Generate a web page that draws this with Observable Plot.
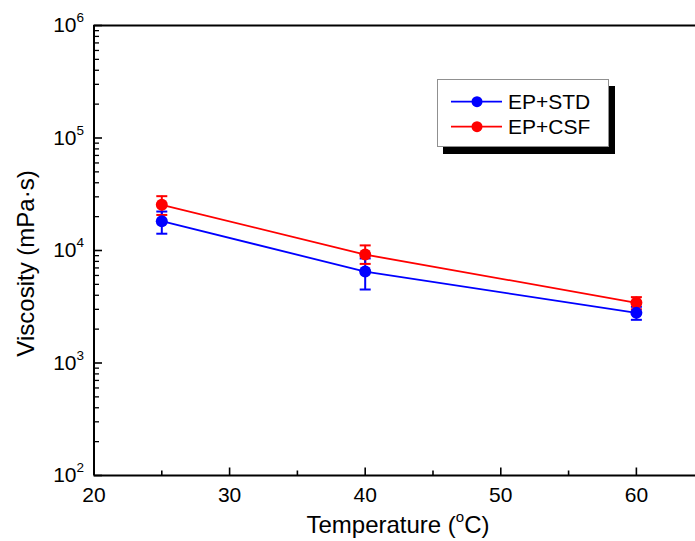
<!DOCTYPE html>
<html><head><meta charset="utf-8">
<script src="https://cdn.jsdelivr.net/npm/d3@7"></script>
<script src="https://cdn.jsdelivr.net/npm/@observablehq/plot@0.6"></script>
<style>
body{margin:0;background:#fff}
svg{font-family:"Liberation Sans",Arial,sans-serif}
</style>
</head><body><div id="chart"></div>
<script>
// ---- data ----
const temperatures = [25, 40, 60];
const seriesNames = ["EP+STD", "EP+CSF"];
const seriesColors = ["#0000ff", "#ff0000"];
const stdViscosity = [18200, 6500, 2790];
const stdLow = [14100, 4500, 2420];
const stdHigh = [22200, 8500, 3160];
const csfViscosity = [25500, 9200, 3430];
const csfLow = [20700, 7600, 3000];
const csfHigh = [30400, 11100, 3850];
const xTicks = [20, 30, 40, 50, 60];
const xMinorTicks = [25, 35, 45, 55];
const yTicks = [1e2, 1e3, 1e4, 1e5, 1e6];
const yMinorTicks = [1e2, 1e3, 1e4, 1e5].flatMap(d => [2,3,4,5,6,7,8,9].map(m => m * d));
const xTitle = "Temperature (";
const xTitleSup = "o";
const xTitleEnd = "C)";
const yTitle = "Viscosity (mPa·s)";

// build rows (CSF first so STD draws on top)
const rows = [];
temperatures.forEach((t, i) => rows.push({t, v: csfViscosity[i], lo: csfLow[i], hi: csfHigh[i], s: seriesNames[1]}));
temperatures.forEach((t, i) => rows.push({t, v: stdViscosity[i], lo: stdLow[i], hi: stdHigh[i], s: seriesNames[0]}));

const rOf = size => Math.sqrt(size / Math.PI);
const capSymbol = {draw(context, size) { const r = rOf(size); context.moveTo(-r, 0); context.lineTo(r, 0); }};
const tickUp = {draw(context, size) { const r = rOf(size); context.moveTo(0, 0); context.lineTo(0, -r); }};
const tickRight = {draw(context, size) { const r = rOf(size); context.moveTo(0, 0); context.lineTo(r, 0); }};

const W = 695, H = 541;
const plot = Plot.plot({
  width: W, height: H,
  marginLeft: 93.5, marginRight: 0, marginTop: 25, marginBottom: 66,
  style: {fontFamily: "'Liberation Sans', Arial, sans-serif", fontSize: "21px", background: "#fff", color: "#000"},
  x: {type: "linear", domain: [20, 64.36], axis: null},
  y: {type: "log", domain: [100, 1e6], axis: null},
  color: {domain: seriesNames, range: seriesColors},
  marks: [
    // inward ticks
    Plot.dot(xTicks, {x: d => d, y: 100, symbol: tickUp, r: 8, stroke: "#000", fill: "none", strokeWidth: 1.6}),
    Plot.dot(xMinorTicks, {x: d => d, y: 100, symbol: tickUp, r: 5, stroke: "#000", fill: "none", strokeWidth: 1.6}),
    Plot.dot(yTicks, {x: 20, y: d => d, symbol: tickRight, r: 8, stroke: "#000", fill: "none", strokeWidth: 1.6}),
    Plot.dot(yMinorTicks, {x: 20, y: d => d, symbol: tickRight, r: 5, stroke: "#000", fill: "none", strokeWidth: 1.3}),
    // frame lines
    Plot.ruleX([20], {strokeWidth: 2}),
    Plot.ruleY([100], {strokeWidth: 2}),
    Plot.ruleY([1e6], {strokeWidth: 2}),
    // tick labels
    Plot.text(xTicks, {x: d => d, frameAnchor: "bottom", dy: 19.5, lineAnchor: "middle", text: d => String(d), fontSize: 21}),
    Plot.text(yTicks, {y: d => d, frameAnchor: "left", dx: -10, dy: 0, textAnchor: "end", lineAnchor: "middle", text: d => "10^" + Math.round(Math.log10(d)), fontSize: 21}),
    // series
    Plot.line(rows, {x: "t", y: "v", z: "s", stroke: "s", strokeWidth: 1.8}),
    Plot.ruleX(rows, {x: "t", y1: "lo", y2: "hi", stroke: "s", strokeWidth: 2}),
    Plot.dot(rows, {x: "t", y: "lo", symbol: capSymbol, r: 5.5, stroke: "s", strokeWidth: 2, fill: "none"}),
    Plot.dot(rows, {x: "t", y: "hi", symbol: capSymbol, r: 5.5, stroke: "s", strokeWidth: 2, fill: "none"}),
    Plot.dot(rows, {x: "t", y: "v", r: 6, fill: "s", stroke: "none"})
  ]
});

const svg = d3.select(plot);
// superscript tick labels
svg.selectAll("text").each(function() {
  const el = d3.select(this);
  const m = /^10\^(-?\d+)$/.exec(this.textContent);
  if (m) {
    el.text("");
    el.append("tspan").text("10");
    el.append("tspan").attr("font-size", 13.5).attr("dy", -10).text(m[1]);
  }
});

// axis titles
const xt = svg.append("text").attr("x", 398).attr("y", 533).attr("text-anchor", "middle")
  .attr("font-size", 24).attr("fill", "#000");
xt.append("tspan").text(xTitle);
xt.append("tspan").attr("font-size", 15).attr("dy", -11).text(xTitleSup);
xt.append("tspan").attr("dy", 11).text(xTitleEnd);

svg.append("text").attr("transform", "translate(34,263.5) rotate(-90)").attr("text-anchor", "middle")
  .attr("font-size", 24).attr("fill", "#000").text(yTitle);

// legend
const lg = svg.append("g");
lg.append("rect").attr("x", 443).attr("y", 86).attr("width", 172).attr("height", 68).attr("fill", "#000");
lg.append("rect").attr("x", 437.5).attr("y", 79.5).attr("width", 171).attr("height", 67).attr("fill", "#fff").attr("stroke", "#909090").attr("stroke-width", 1);
seriesNames.forEach((name, i) => {
  const y = 101.7 + i * 25;
  lg.append("line").attr("x1", 451).attr("x2", 502).attr("y1", y).attr("y2", y).attr("stroke", seriesColors[i]).attr("stroke-width", 1.8);
  lg.append("circle").attr("cx", 477).attr("cy", y).attr("r", 5.5).attr("fill", seriesColors[i]);
  lg.append("text").attr("x", 508).attr("y", y).attr("dy", "0.36em").attr("text-anchor", "start")
    .attr("font-size", 21).attr("fill", "#000").text(name);
});

document.getElementById("chart").appendChild(plot);
</script>
</body></html>
